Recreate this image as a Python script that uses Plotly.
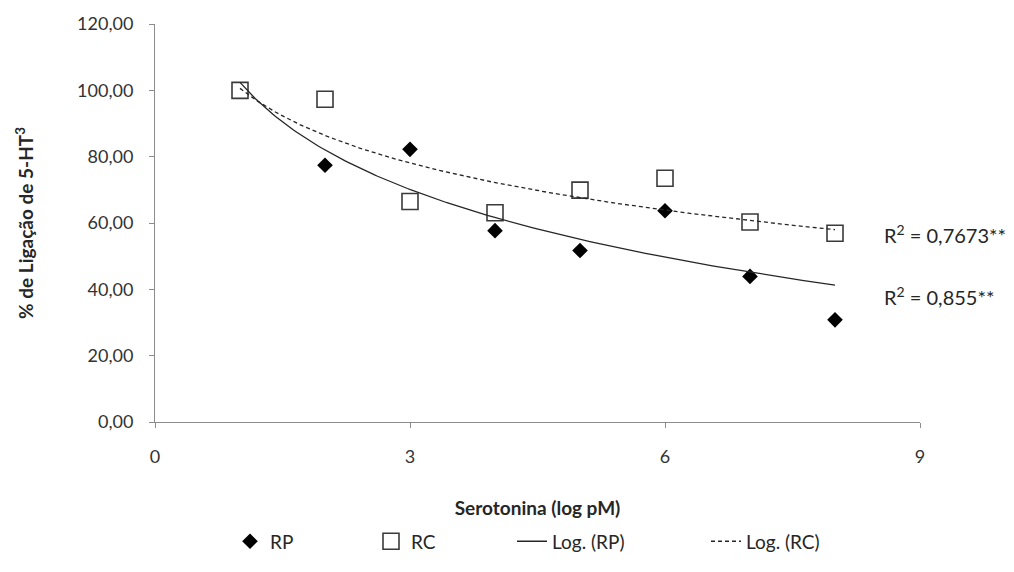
import numpy as np
import plotly.graph_objects as go

x_vals = [1, 2, 3, 4, 5, 6, 7, 8]
rp_vals = [100.0, 77.4, 82.2, 57.7, 51.7, 63.7, 43.9, 30.8]
rc_vals = [100.0, 97.3, 66.5, 63.1, 69.9, 73.5, 60.3, 56.9]
r2_labels = ["R<sup>2</sup> = 0,7673**", "R<sup>2</sup> = 0,855**"]
y_ticks = [0, 20, 40, 60, 80, 100, 120]
y_tick_text = ["0,00", "20,00", "40,00", "60,00", "80,00", "100,00", "120,00"]
x_ticks = [0, 3, 6, 9]

FONT = "Lato, Open Sans, sans-serif"
INK = "#262626"

def log_fit(xs, ys):
    a, b = np.polyfit(np.log(xs), ys, 1)
    xf = np.linspace(min(xs), max(xs), 200)
    return xf, a * np.log(xf) + b

xr, yr = log_fit(x_vals, rp_vals)
xc, yc = log_fit(x_vals, rc_vals)

fig = go.Figure()
fig.add_trace(go.Scatter(x=x_vals, y=rp_vals, mode="markers", name="RP", legend="legend",
                         marker=dict(symbol="diamond", size=12, color="black")))
fig.add_trace(go.Scatter(x=x_vals, y=rc_vals, mode="markers", name="RC", legend="legend2",
                         marker=dict(symbol="square", size=16, color="white",
                                     line=dict(width=1.6, color="#3a3a3a"))))
fig.add_trace(go.Scatter(x=xr, y=yr, mode="lines", name="Log. (RP)", legend="legend3",
                         line=dict(color=INK, width=1.3)))
fig.add_trace(go.Scatter(x=xc, y=yc, mode="lines", name="Log. (RC)", legend="legend4",
                         line=dict(color=INK, width=1.3, dash="4px,3px")))

ann_font = dict(family=FONT, size=20, color=INK)
fig.add_annotation(x=0.95, xref="paper", xanchor="left", y=56.8, yref="y",
                   text=r2_labels[0], showarrow=False, font=ann_font)
fig.add_annotation(x=0.95, xref="paper", xanchor="left", y=37.9, yref="y",
                   text=r2_labels[1], showarrow=False, font=ann_font)

leg_common = dict(orientation="h", y=-0.30, yanchor="middle", xanchor="left",
                  font=dict(family=FONT, size=19, color=INK), bgcolor="rgba(0,0,0,0)")
L, W = 155, 765
def lx(px):
    return (px - L) / W

fig.update_layout(
    width=1014, height=572,
    margin=dict(l=155, r=94, t=24, b=135),
    plot_bgcolor="white", paper_bgcolor="white",
    font=dict(family=FONT, size=18, color="#333"),
    xaxis=dict(range=[0, 9], tickvals=x_ticks, showgrid=False, zeroline=False,
               showline=True, linecolor="#8c8c8c", linewidth=1, ticks="outside",
               ticklen=5, tickcolor="#8c8c8c", ticklabelstandoff=13,
               tickfont=dict(size=18, color="#333"),
               title=dict(text="<b>Serotonina (log pM)</b>", font=dict(size=19, color=INK), standoff=36)),
    yaxis=dict(range=[0, 120], tickvals=y_ticks, ticktext=y_tick_text, showgrid=False,
               zeroline=False, showline=True, linecolor="#8c8c8c", linewidth=1,
               ticks="outside", ticklen=5, tickcolor="#8c8c8c", ticklabelstandoff=12,
               tickfont=dict(size=18, color="#333"),
               title=dict(text="<b>% de Ligação de 5-HT<sup>3</sup></b>", font=dict(size=19, color=INK), standoff=38)),
    legend=dict(x=lx(271 - 41), **leg_common),
    legend2=dict(x=lx(412 - 41), **leg_common),
    legend3=dict(x=lx(553 - 41), **leg_common),
    legend4=dict(x=lx(747 - 41), **leg_common),
    showlegend=True,
)

fig.write_html("out.html")
